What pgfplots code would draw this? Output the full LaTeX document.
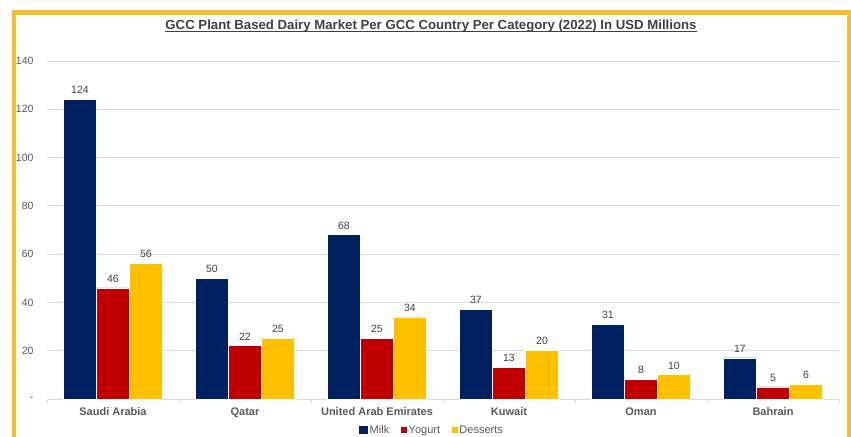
\documentclass[border=0pt]{standalone}
\usepackage{pgfplots}
\pgfplotsset{compat=1.18}
\usepackage{fontspec}
\setmainfont{Liberation Sans}
\definecolor{milk}{HTML}{002060}
\definecolor{yog}{HTML}{C00000}
\definecolor{des}{HTML}{FFC000}
\definecolor{gold}{HTML}{F0C02E}
\definecolor{gridc}{HTML}{D9D9D9}
\definecolor{txt}{HTML}{595959}
\definecolor{ttl}{HTML}{404040}
\begin{document}
\begin{tikzpicture}
\path[use as bounding box] (0,0) rectangle (851bp,437bp);
\draw[gold, line width=4.5bp, line join=miter] (14bp,-10bp) -- (14bp,424.5bp) -- (849bp,424.5bp) -- (849bp,-10bp);
\node[inner sep=0pt, text=ttl, font=\fontsize{13.2bp}{15bp}\selectfont\bfseries, anchor=base] (t) at (431bp,407.5bp) {GCC Plant Based Dairy Market Per GCC Country Per Category (2022) In USD Millions};
\draw[ttl, line width=1bp] ([yshift=-2.2bp]t.base west) -- ([yshift=-2.2bp]t.base east);
\begin{axis}[
  /pgf/number format/assume math mode=true,
  at={(47bp,38bp)}, anchor=south west,
  scale only axis, width=792bp, height=338bp,
  ymin=0, ymax=140, xmin=-0.5, xmax=5.5,
  ybar=0pt, bar width=33bp,
  axis x line=bottom, axis y line=left,
  x axis line style={draw=gridc, line width=0.8bp, -},
  y axis line style={draw=none},
  ymajorgrids, grid style={draw=gridc, line width=0.8bp},
  ytick={0,20,...,140}, yticklabels={{-\hspace{7bp}},20,40,60,80,100,120,140},
  major tick length=0pt,
  xtick={0,...,5},
  xticklabels={Saudi Arabia,Qatar,United Arab Emirates,Kuwait,Oman,Bahrain},
  minor xtick={-0.5,0.5,...,5.5}, minor tick length=4bp, tick align=outside,
  every minor tick/.append style={draw=gridc, line width=0.8bp},
  xticklabel style={font=\fontsize{11bp}{13bp}\selectfont\bfseries, text=txt, yshift=-5bp},
  yticklabel style={font=\fontsize{10.5bp}{12bp}\selectfont, text=txt, xshift=-10bp},
  every axis plot/.append style={draw=white, line width=0.8bp},
  nodes near coords,
  every node near coord/.append style={font=\fontsize{10.5bp}{12bp}\selectfont, text=ttl, yshift=2bp},
  legend style={draw=none, fill=none, at={(0.486,-0.0917)}, anchor=center, font=\fontsize{11bp}{13bp}\selectfont, text=txt, /tikz/every even column/.append style={column sep=10bp}},
  legend columns=-1,
  clip=false,
]
\addplot[fill=milk, legend image code/.code={\fill[milk] (0bp,-3.7bp) rectangle (8bp,3.7bp);}] coordinates {(0,124) (1,50) (2,68) (3,37) (4,31) (5,17)};
\addplot[fill=yog, legend image code/.code={\fill[yog] (2bp,-2.3bp) rectangle (6.6bp,2.3bp);}] coordinates {(0,46) (1,22) (2,25) (3,13) (4,8) (5,5)};
\addplot[fill=des, legend image code/.code={\fill[des] (2bp,-2.3bp) rectangle (6.6bp,2.3bp);}] coordinates {(0,56) (1,25) (2,34) (3,20) (4,10) (5,6)};
\legend{Milk,Yogurt,Desserts}
\end{axis}
\end{tikzpicture}
\end{document}
